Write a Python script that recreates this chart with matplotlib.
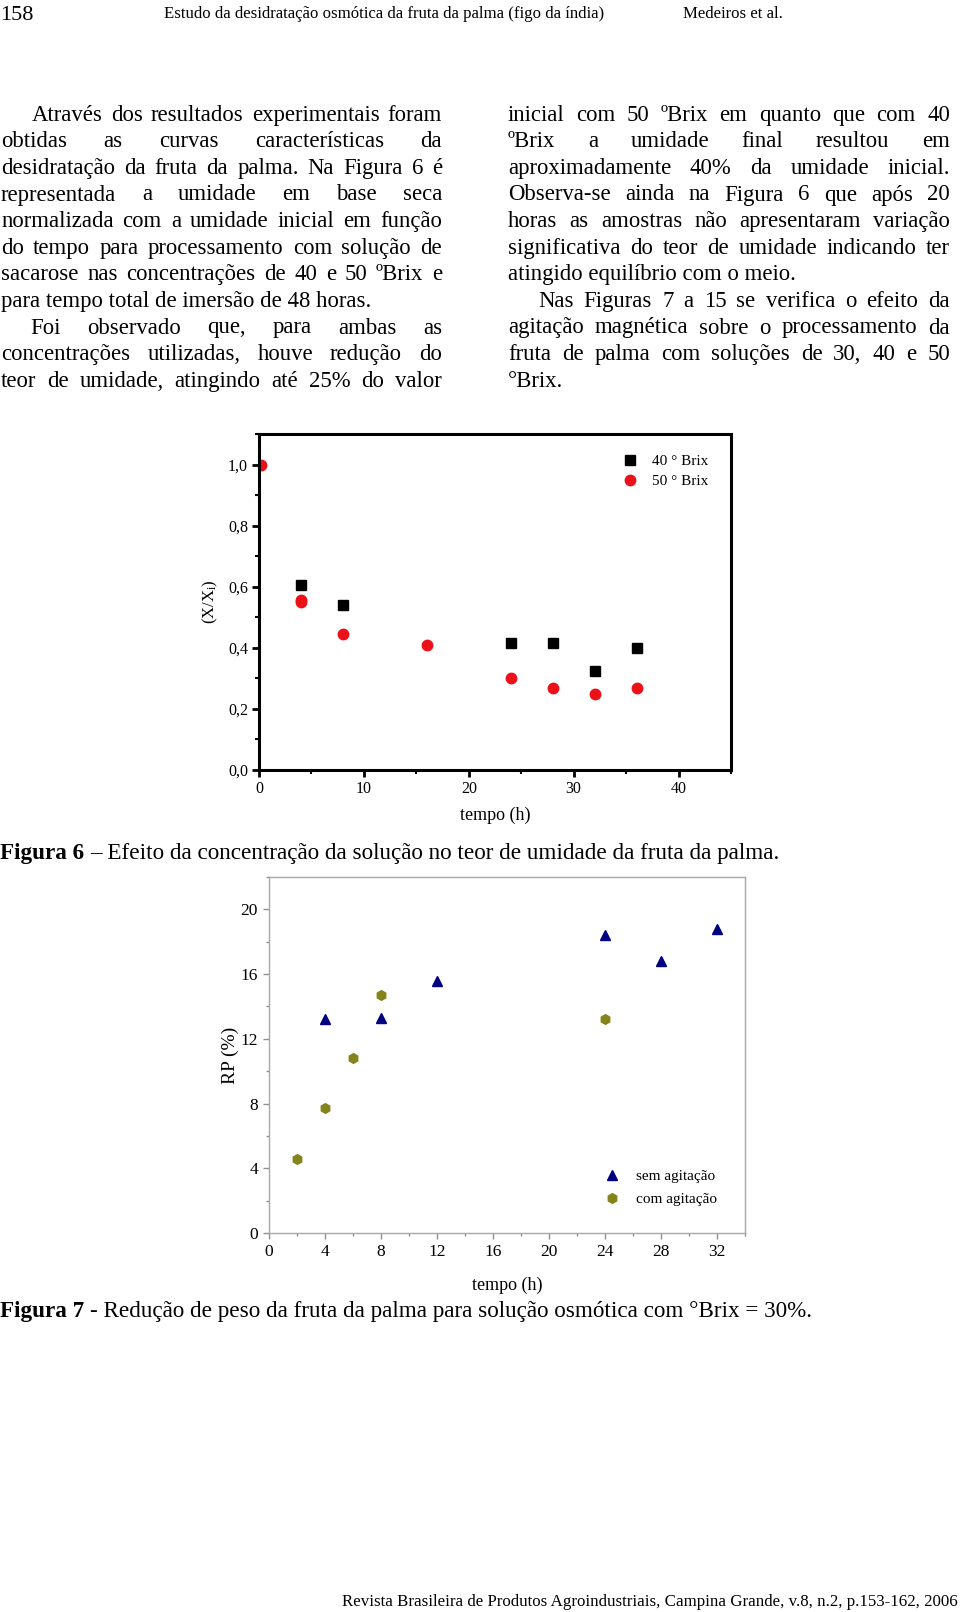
import matplotlib
matplotlib.use("Agg")
import matplotlib.pyplot as plt
from matplotlib.ticker import MultipleLocator

W, H = 960, 1612
SERIF = "Liberation Serif"
plt.rcParams["font.family"] = [SERIF, "DejaVu Serif"]
plt.rcParams["mathtext.fontset"] = "custom"
plt.rcParams["mathtext.rm"] = SERIF
plt.rcParams["mathtext.it"] = SERIF + ":italic"

# ----------------------------
# Data - Figura 6 (X/Xi vs tempo)
# ----------------------------
t_40 = [4, 8, 24, 28, 32, 36]
x_40 = [0.605, 0.539, 0.417, 0.417, 0.325, 0.398]
t_50 = [0.2, 4, 4, 8, 16, 24, 28, 32, 36]
x_50 = [0.998, 0.558, 0.549, 0.446, 0.408, 0.301, 0.268, 0.250, 0.268]
fig6_yticks = [0.0, 0.2, 0.4, 0.6, 0.8, 1.0]
fig6_ylabels = ["0,0", "0,2", "0,4", "0,6", "0,8", "1,0"]
fig6_xticks = [0, 10, 20, 30, 40]

# ----------------------------
# Data - Figura 7 (RP vs tempo)
# ----------------------------
t_sem = [4, 8, 12, 24, 28, 32]
rp_sem = [13.2, 13.3, 15.6, 18.4, 16.8, 18.8]
t_com = [2, 4, 6, 8, 24]
rp_com = [4.6, 7.7, 10.8, 14.7, 13.2]
fig7_yticks = [0, 4, 8, 12, 16, 20]
fig7_xticks = [0, 4, 8, 12, 16, 20, 24, 28, 32]

# ----------------------------
# Page text
# ----------------------------
left_lines = [
    "Através dos resultados experimentais foram",
    "obtidas as curvas características da",
    "desidratação da fruta da palma. Na Figura 6 é",
    "representada a umidade em base seca",
    "normalizada com a umidade inicial em função",
    "do tempo para processamento com solução de",
    "sacarose nas concentrações de 40 e 50 ºBrix e",
    "para tempo total de imersão de 48 horas.",
    "Foi observado que, para ambas as",
    "concentrações utilizadas, houve redução do",
    "teor de umidade, atingindo até 25% do valor",
]
right_lines = [
    "inicial com 50 ºBrix em quanto que com 40",
    "ºBrix a umidade final resultou em",
    "aproximadamente 40% da umidade inicial.",
    "Observa-se ainda na Figura 6 que após 20",
    "horas as amostras não apresentaram variação",
    "significativa do teor de umidade indicando ter",
    "atingido equilíbrio com o meio.",
    "Nas Figuras 7 a 15 se verifica o efeito da",
    "agitação magnética sobre o processamento da",
    "fruta de palma com soluções de 30, 40 e 50",
    "°Brix.",
]

fig = plt.figure(figsize=(W / 100, H / 100), dpi=100)
renderer = fig.canvas.get_renderer()


def fx(x):
    return x / W


def fy(y):
    return 1 - y / H


def put(x, y, s, size, **kw):
    return fig.text(fx(x), fy(y), s, fontsize=size, va="baseline", **kw)


def width(t):
    return t.get_window_extent(renderer).width


def fit(x0, x1, y, parts):
    # parts: (text, weight); scale font so the whole line spans x0..x1
    texts = [put(x0, y, s, 10, fontweight=wt) for s, wt in parts]
    gap = 0.25 * 10 * 100 / 72
    total = sum(width(t) for t in texts) + gap * (len(texts) - 1)
    size = 10 * (x1 - x0) / total
    x = x0
    for t in texts:
        t.set_fontsize(size)
        t.set_x(fx(x))
        x += width(t) + 0.25 * size * 100 / 72
    return size


def justify(lines, x0, x1, y0, step, size, indents, last):
    for i, line in enumerate(lines):
        y = y0 + i * step
        left = x0 + indents.get(i, 0)
        if i in last:
            put(left, y, line, size)
            continue
        words = line.split()
        texts = [put(0, y, w, size) for w in words]
        widths = [width(t) for t in texts]
        gap = (x1 - left - sum(widths)) / (len(words) - 1)
        x = left
        for t, w in zip(texts, widths):
            t.set_x(fx(x))
            x += w + gap


# body font size from an unjustified line
probe = put(0, 0, left_lines[7], 10)
body_size = 10 * 369 / width(probe)
probe.remove()

# ----------------------------
# Header / footer
# ----------------------------
put(0, 20, "158", 16)
head_size = fit(164, 606, 18, [("Estudo da desidratação osmótica da fruta da palma (figo da índia)", "normal")])
put(683, 18, "Medeiros et al.", head_size)
fit(342, 956, 1606, [("Revista Brasileira de Produtos Agroindustriais, Campina Grande, v.8, n.2, p.153-162, 2006", "normal")])

# ----------------------------
# Two text columns
# ----------------------------
justify(left_lines, 1, 442, 120.7, 26.6, body_size, {0: 31, 8: 29}, {7})
justify(right_lines, 508, 950, 120.7, 26.6, body_size, {7: 30}, {6, 10})

# ----------------------------
# Figura 6
# ----------------------------
ax1 = fig.add_axes([fx(259), fy(770), (731 - 259) / W, (770 - 434) / H])
ax1.plot(t_40, x_40, ls="none", marker="s", ms=6.5, color="black", label="40 ° Brix")
ax1.plot(t_50, x_50, ls="none", marker="o", ms=7.5, color="#ec1119", label="50 ° Brix")
ax1.set_xlim(0, 45)
ax1.set_ylim(0, 1.1)
ax1.set_yticks(fig6_yticks)
ax1.set_yticklabels(fig6_ylabels)
ax1.set_xticks(fig6_xticks)
ax1.xaxis.set_minor_locator(MultipleLocator(5))
ax1.yaxis.set_minor_locator(MultipleLocator(0.1))
for sp in ax1.spines.values():
    sp.set_linewidth(2.2)
ax1.tick_params(which="major", direction="out", length=5, width=2, labelsize=11.5, pad=3)
ax1.tick_params(which="minor", direction="out", length=3, width=1.5)
ax1.set_xlabel("tempo (h)", fontsize=13, labelpad=7)
ax1.set_ylabel("(X/X$_\\mathrm{i}$)", fontsize=12, labelpad=6)
ax1.legend(loc="upper left", bbox_to_anchor=(0.770, 0.94), frameon=False, fontsize=11,
           handlelength=1, handletextpad=0.94, labelspacing=0.42, borderpad=0, borderaxespad=0)

fit(0, 781, 859, [("Figura 6", "bold"), ("– Efeito da concentração da solução no teor de umidade da fruta da palma.", "normal")])

# ----------------------------
# Figura 7
# ----------------------------
ax2 = fig.add_axes([fx(269), fy(1233), (745 - 269) / W, (1233 - 877) / H])
ax2.plot(t_sem, rp_sem, ls="none", marker="^", ms=6.5, color="#000080", label="sem agitação")
ax2.plot(t_com, rp_com, ls="none", marker="h", ms=7, color="#84841a", label="com agitação")
ax2.set_xlim(0, 34)
ax2.set_ylim(0, 22)
ax2.set_yticks(fig7_yticks)
ax2.set_xticks(fig7_xticks)
ax2.xaxis.set_minor_locator(MultipleLocator(2))
ax2.yaxis.set_minor_locator(MultipleLocator(2))
for sp in ax2.spines.values():
    sp.set_linewidth(1)
    sp.set_color("#a8a8a8")
ax2.tick_params(which="major", direction="out", length=4, width=1, color="#909090", labelsize=12.5, pad=4)
ax2.tick_params(which="minor", direction="out", length=2.5, width=1, color="#909090")
ax2.set_xlabel("tempo (h)", fontsize=13, labelpad=12)
ax2.set_ylabel("RP (%)", fontsize=14, labelpad=1)
ax2.legend(loc="upper left", bbox_to_anchor=(0.705, 0.178), frameon=False, fontsize=11,
           handlelength=1, handletextpad=1.07, labelspacing=0.6, borderpad=0, borderaxespad=0)

fit(0, 815, 1317, [("Figura 7", "bold"), ("- Redução de peso da fruta da palma para solução osmótica com °Brix = 30%.", "normal")])

fig.savefig("out.png", dpi=100)
